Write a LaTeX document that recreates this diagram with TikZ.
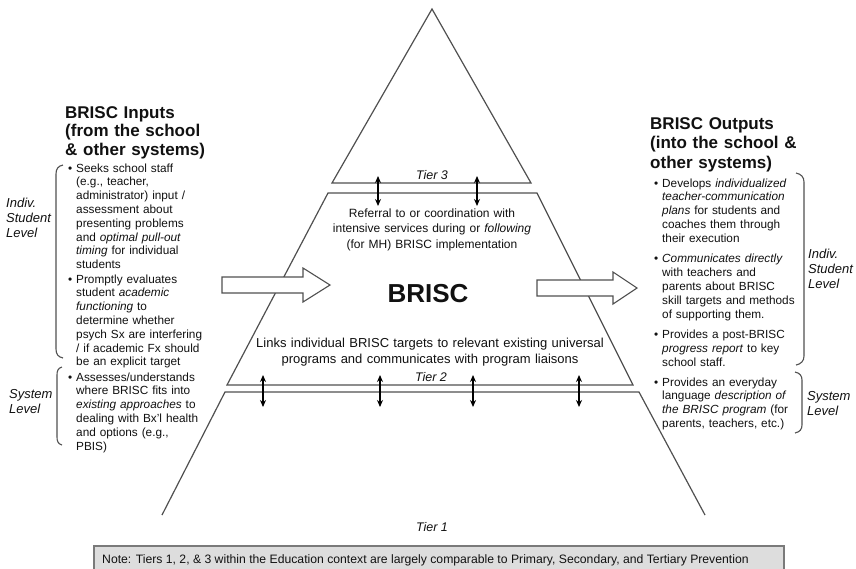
\documentclass[tikz,border=0pt]{standalone}
\usepackage{fontspec}
\setmainfont{Liberation Sans}
\usetikzlibrary{arrows.meta}
\definecolor{linegray}{HTML}{505050}
\definecolor{txt}{HTML}{111111}
\definecolor{notefill}{HTML}{DDDDDD}
\definecolor{noteline}{HTML}{7A7A7A}
\newcommand\bulletmark{\leavevmode\llap{\textbullet\hspace{4pt}}}
\begin{document}
\begin{tikzpicture}[x=1pt,y=-1pt,
 tierline/.style={draw=linegray,line width=1.2pt,line join=miter},
 blockarrow/.style={draw=linegray,line width=1.1pt,fill=white},
 linkarrow/.style={draw=black,line width=1.2pt,{Stealth[length=7pt,width=6pt]}-{Stealth[length=7pt,width=6pt]}},
 bracket/.style={draw=linegray,line width=1.1pt},
 body/.style={inner sep=0pt,anchor=base west,align=left,text=txt,font=\fontsize{11.8}{13.8}\selectfont},
 title/.style={inner sep=0pt,anchor=base west,align=left,text=txt,font=\bfseries\fontsize{17}{18.5}\selectfont,text width=170pt},
 levellabel/.style={inner sep=0pt,anchor=base west,align=left,text=txt,font=\itshape\fontsize{13}{15}\selectfont,text width=50pt},
 tierlabel/.style={inner sep=0pt,anchor=base,text=txt,font=\itshape\fontsize{12.5}{14}\selectfont},
 tiertext/.style={inner sep=0pt,anchor=base,align=center,text=txt,font=\fontsize{12}{15.5}\selectfont},
]
\useasboundingbox (0,0) rectangle (856,568);
\fill[white] (0,0) rectangle (856,568);

% pyramid
\coordinate (t3apex) at (432,9);
\coordinate (t3r) at (531,183);
\coordinate (t3l) at (332,183);
\draw[tierline] (t3apex) -- (t3r) -- (t3l) -- cycle;
\coordinate (t2tl) at (328,193);
\coordinate (t2tr) at (537,193);
\coordinate (t2br) at (633,385);
\coordinate (t2bl) at (227,385);
\draw[tierline] (t2tl) -- (t2tr) -- (t2br) -- (t2bl) -- cycle;
\coordinate (t1bl) at (162,515);
\coordinate (t1tl) at (225,392);
\coordinate (t1tr) at (639,392);
\coordinate (t1br) at (705,515);
\draw[tierline] (t1bl) -- (t1tl) -- (t1tr) -- (t1br);

% link arrows
\foreach \x [count=\i] in {378,477} {
  \coordinate (ua\i) at (\x,176);
  \coordinate (la\i) at (\x,206);
  \draw[linkarrow] (ua\i) -- (la\i);
}
\foreach \x [count=\i] in {263,380,473,579} {
  \coordinate (ub\i) at (\x,375);
  \coordinate (lb\i) at (\x,407);
  \draw[linkarrow] (ub\i) -- (lb\i);
}

% block arrows
\draw[blockarrow] (222,277) -- (303,277) -- (303,268) -- (330,285) -- (303,302) -- (303,293) -- (222,293) -- cycle;
\draw[blockarrow] (537,280) -- (613,280) -- (613,272) -- (637,288) -- (613,304) -- (613,296) -- (537,296) -- cycle;

% tier labels
\node[tierlabel] (tier3) at (432,179) {Tier 3};
\node[tierlabel] (tier2) at (431,381) {Tier 2};
\node[tierlabel] (tier1) at (432,531) {Tier 1};

% tier texts
\node[tiertext,text width=230pt] (refer) at (432,217) {Referral to or coordination with\\ intensive services during or \textit{following}\\ (for MH) BRISC implementation};
\node[inner sep=0pt,anchor=base,text=txt,font=\bfseries\fontsize{26}{28}\selectfont] (brisc) at (428,302) {BRISC};
\node[tiertext,text width=400pt,font=\fontsize{13}{16}\selectfont] (links) at (430,347) {Links individual BRISC targets to relevant existing universal\\ programs and communicates with program liaisons};

% left column
\node[title] (intitle) at (65,118) {BRISC Inputs\\ (from the school\\ \& other systems)};
\node[body,text width=150pt] (in1) at (76,172) {\bulletmark Seeks school staff\\ (e.g., teacher,\\ administrator) input /\\ assessment about\\ presenting problems\\ and \textit{optimal pull-out}\\ \textit{timing} for individual\\ students};
\node[body,text width=150pt] (in2) at (76,283) {\bulletmark Promptly evaluates\\ student \textit{academic}\\ \textit{functioning} to\\ determine whether\\ psych Sx are interfering\\ / if academic Fx should\\ be an explicit target};
\node[body,text width=150pt] (in3) at (76,381) {\bulletmark Assesses/understands\\ where BRISC fits into\\ \textit{existing approaches} to\\ dealing with Bx'l health\\ and options (e.g.,\\ PBIS)};
\node[levellabel] (inindiv) at (6,207) {Indiv.\\ Student\\ Level};
\node[levellabel,font=\itshape\fontsize{13}{15.5}\selectfont] (insys) at (9,398) {System\\ Level};
\draw[bracket] (63,165) .. controls (58,166) and (56,169) .. (56,174) -- (56,349) .. controls (56,354) and (58,357) .. (63,358);
\draw[bracket] (62,367) .. controls (58,368) and (57,371) .. (57,375) -- (57,437) .. controls (57,441) and (58,444) .. (62,445);

% right column
\node[title,font=\bfseries\fontsize{17}{19.5}\selectfont] (outtitle) at (650,129) {BRISC Outputs\\ (into the school \&\\ other systems)};
\node[body,text width=140pt] (out1) at (662,187) {\bulletmark Develops \textit{individualized}\\ \textit{teacher-communication}\\ \textit{plans} for students and\\ coaches them through\\ their execution};
\node[body,text width=140pt,font=\fontsize{11.8}{14.2}\selectfont] (out2) at (662,262) {\bulletmark \textit{Communicates directly}\\ with teachers and\\ parents about BRISC\\ skill targets and methods\\ of supporting them.};
\node[body,text width=140pt,font=\fontsize{11.8}{14.4}\selectfont] (out3) at (662,338) {\bulletmark Provides a post-BRISC\\ \textit{progress report} to key\\ school staff.};
\node[body,text width=140pt] (out4) at (662,386) {\bulletmark Provides an everyday\\ language \textit{description of}\\ \textit{the BRISC program} (for\\ parents, teachers, etc.)};
\node[levellabel] (outindiv) at (808,258) {Indiv.\\ Student\\ Level};
\node[levellabel] (outsys) at (807,400) {System\\ Level};
\draw[bracket] (796,173) .. controls (801,174) and (804,177) .. (804,182) -- (804,356) .. controls (804,361) and (801,364) .. (796,365);
\draw[bracket] (795,372) .. controls (800,373) and (802,376) .. (802,380) -- (802,425) .. controls (802,429) and (800,432) .. (795,433);

% note
\draw[draw=noteline,line width=1.3pt,fill=notefill] (94,546) rectangle (784,585);
\node[inner sep=0pt,anchor=base west,text=txt,font=\fontsize{12.2}{13}\selectfont] (note) at (102,563) {Note: Tiers 1, 2, \& 3 within the Education context are largely comparable to Primary, Secondary, and Tertiary Prevention};
\end{tikzpicture}
\end{document}
